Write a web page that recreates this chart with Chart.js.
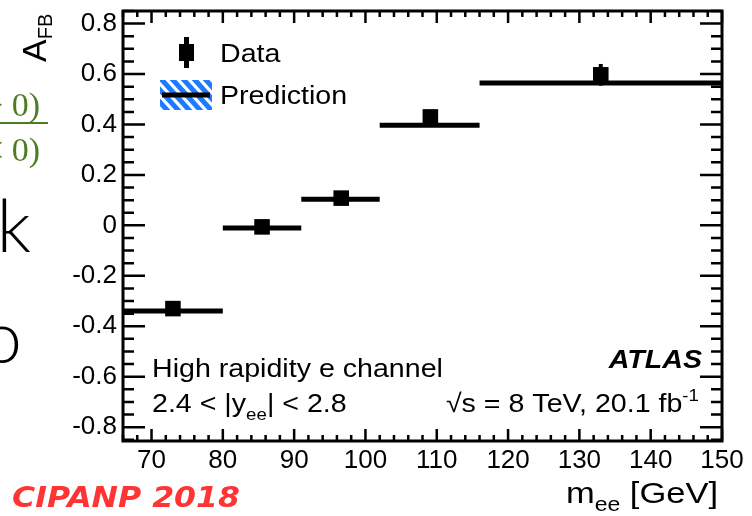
<!DOCTYPE html>
<html>
<head>
<meta charset="utf-8">
<script src="https://cdn.jsdelivr.net/npm/chart.js@4.4.1/dist/chart.umd.min.js"></script>
<style>
  html, body { margin: 0; padding: 0; background: #fff; }
  #wrap { position: relative; width: 752px; height: 516px; }
</style>
</head>
<body>
<div id="wrap"><canvas id="afb" width="752" height="516"></canvas></div>
<script>
// m_ee bins and forward-backward asymmetry, high rapidity electron channel
const binEdges   = [66, 80, 91, 102, 116, 150];
const predValues = [-0.34, -0.01, 0.104, 0.397, 0.565];
const dataMass   = [73.0, 85.5, 96.6, 109.1, 133.0];
const dataAfb    = [-0.33, -0.006, 0.108, 0.43, 0.597];
const dataErr    = [0.02, 0.02, 0.02, 0.025, 0.043];
const xTicks = [70, 80, 90, 100, 110, 120, 130, 140, 150];
const yTicks = [-0.8, -0.6, -0.4, -0.2, 0, 0.2, 0.4, 0.6, 0.8];

const SANS = '"Liberation Sans", Arial, Helvetica, sans-serif';

// prediction as flat steps, null point between bins to break the line
const predLine = [];
predValues.forEach((v, i) => {
  predLine.push({ x: binEdges[i], y: v });
  predLine.push({ x: binEdges[i + 1], y: v });
  predLine.push({ x: binEdges[i + 1], y: null });
});
const dataPts = dataMass.map((m, i) => ({ x: m, y: dataAfb[i] }));

// parts: [text, px, dy, style]; sx widens the run a little (ROOT-ish look)
function textRun(ctx, parts, x, y, align, sx) {
  sx = sx || 1.1;
  let w = 0;
  parts.forEach(p => { ctx.font = (p[3] || "") + " " + p[1] + "px " + SANS; w += ctx.measureText(p[0]).width; });
  ctx.save();
  ctx.translate(align === "right" ? x - w * sx : x, y);
  ctx.scale(sx, 1);
  ctx.textAlign = "left";
  ctx.textBaseline = "alphabetic";
  let cx = 0;
  parts.forEach(p => {
    ctx.font = (p[3] || "") + " " + p[1] + "px " + SANS;
    ctx.fillText(p[0], cx, p[2] || 0);
    cx += ctx.measureText(p[0]).width;
  });
  ctx.restore();
}

const decor = {
  id: "decor",
  beforeDatasetsDraw(chart) {
    const { ctx, scales: { x, y } } = chart;
    ctx.save();
    ctx.strokeStyle = "#000";
    ctx.lineWidth = 4;
    dataMass.forEach((m, i) => {
      const px = x.getPixelForValue(m);
      ctx.beginPath();
      ctx.moveTo(px, y.getPixelForValue(dataAfb[i] + dataErr[i]));
      ctx.lineTo(px, y.getPixelForValue(dataAfb[i] - dataErr[i]));
      ctx.stroke();
    });
    ctx.restore();
  },
  afterDraw(chart) {
    const { ctx, chartArea: a, scales: { x, y } } = chart;
    ctx.save();
    ctx.strokeStyle = "#000";
    ctx.fillStyle = "#000";

    // inward ticks on all four sides
    ctx.lineWidth = 2.5;
    ctx.beginPath();
    for (let k = -17; k <= 17; k++) {
      const v = k * 0.05;
      const py = y.getPixelForValue(v);
      if (py < a.top || py > a.bottom) continue;
      const len = k % 4 === 0 ? 22 : 11;
      ctx.moveTo(a.left, py); ctx.lineTo(a.left + len, py);
      ctx.moveTo(a.right, py); ctx.lineTo(a.right - len, py);
    }
    for (let m = 66; m <= 150; m += 2) {
      const px = x.getPixelForValue(m);
      const len = m % 10 === 0 ? 12 : 6;
      ctx.moveTo(px, a.bottom); ctx.lineTo(px, a.bottom - len);
      ctx.moveTo(px, a.top); ctx.lineTo(px, a.top + len);
    }
    ctx.stroke();

    // frame
    ctx.lineWidth = 3;
    ctx.strokeRect(a.left, a.top, a.right - a.left, a.bottom - a.top);

    // legend
    ctx.lineWidth = 5;
    ctx.fillRect(179, 44, 15, 17);
    ctx.beginPath(); ctx.moveTo(186.5, 37); ctx.lineTo(186.5, 68); ctx.stroke();
    ctx.save();
    ctx.beginPath(); ctx.rect(160, 80, 52, 30); ctx.clip();
    ctx.strokeStyle = "#1d7bff";
    ctx.lineWidth = 5;
    ctx.beginPath();
    for (let s = 120; s <= 240; s += 11) { ctx.moveTo(s, 70); ctx.lineTo(s + 45, 120); }
    ctx.stroke();
    ctx.restore();
    ctx.beginPath(); ctx.moveTo(162, 95); ctx.lineTo(210, 95); ctx.stroke();
    textRun(ctx, [["Data", 26]], 220, 62);
    textRun(ctx, [["Prediction", 26]], 220, 104);

    // labels inside the frame
    textRun(ctx, [["High rapidity e channel", 26]], 152, 377);
    textRun(ctx, [["2.4 < |y", 26], ["ee", 17, 8], ["| < 2.8", 26]], 152, 412);
    textRun(ctx, [["ATLAS", 26, 0, "italic bold"]], 702, 368, "right");
    textRun(ctx, [["\u221As = 8 TeV, 20.1 fb", 26], ["-1", 17, -11]], 699, 412, "right");

    // axis titles
    textRun(ctx, [["m", 30], ["ee", 20, 8], [" [GeV]", 30]], 718, 503, "right", 1.15);
    ctx.save();
    ctx.translate(46, 62);
    ctx.rotate(-Math.PI / 2);
    textRun(ctx, [["A", 34], ["FB", 20, 6]], 0, 0, "left", 1);
    ctx.restore();

    // slide fragments at the left edge
    ctx.fillStyle = "#4c7d22";
    ctx.strokeStyle = "#4c7d22";
    ctx.font = '34px "Liberation Serif", "DejaVu Serif", serif';
    ctx.textAlign = "left";
    ctx.fillText("> 0)", -16, 116);
    ctx.fillText("< 0)", -16, 161);
    ctx.lineWidth = 2;
    ctx.beginPath(); ctx.moveTo(0, 123); ctx.lineTo(48, 123); ctx.stroke();

    ctx.fillStyle = "#000";
    ctx.font = '300 72px Lato, "Open Sans", sans-serif';
    ctx.textAlign = "right";
    ctx.fillText("k", 31, 252);
    ctx.fillText("o", 22, 363);

    // conference tag
    ctx.fillStyle = "#ff3434";
    ctx.font = 'italic bold 28px "DejaVu Sans", sans-serif';
    ctx.textAlign = "left";
    const w = ctx.measureText("CIPANP 2018").width;
    ctx.save();
    ctx.translate(12, 507);
    ctx.scale(228 / w, 1);
    ctx.fillText("CIPANP 2018", 0, 0);
    ctx.restore();

    ctx.restore();
  }
};

new Chart(document.getElementById("afb"), {
  type: "scatter",
  data: {
    datasets: [
      {
        type: "line",
        label: "Prediction",
        data: predLine,
        borderColor: "#000",
        borderWidth: 5,
        borderCapStyle: "butt",
        pointRadius: 0,
        spanGaps: false,
        fill: false,
      },
      {
        label: "Data",
        data: dataPts,
        pointStyle: "rect",
        pointRadius: 11,
        backgroundColor: "#000",
        borderWidth: 0,
      },
    ],
  },
  options: {
    responsive: false,
    animation: false,
    events: [],
    layout: { padding: { top: 9, right: 30, left: 0, bottom: 0 } },
    plugins: { legend: { display: false }, tooltip: { enabled: false } },
    scales: {
      x: {
        type: "linear", min: 66, max: 150,
        grid: { display: false, drawTicks: false },
        border: { display: false },
        afterBuildTicks: s => { s.ticks = xTicks.map(v => ({ value: v })); },
        afterFit: s => { s.height = 75; s.paddingLeft = 0; s.paddingRight = 0; },
        ticks: { color: "#000", padding: 4, maxRotation: 0,
                 font: { family: SANS, size: 26 } },
      },
      y: {
        type: "linear", min: -0.855, max: 0.85,
        grid: { display: false, drawTicks: false },
        border: { display: false },
        afterBuildTicks: s => { s.ticks = yTicks.map(v => ({ value: v })); },
        afterFit: s => { s.width = 123; s.paddingTop = 0; s.paddingBottom = 0; },
        ticks: { color: "#000", padding: 6,
                 font: { family: SANS, size: 26 },
                 callback: v => (Math.abs(v) < 1e-9 ? "0" : v.toFixed(1)) },
      },
    },
  },
  plugins: [decor],
});
</script>
</body>
</html>
